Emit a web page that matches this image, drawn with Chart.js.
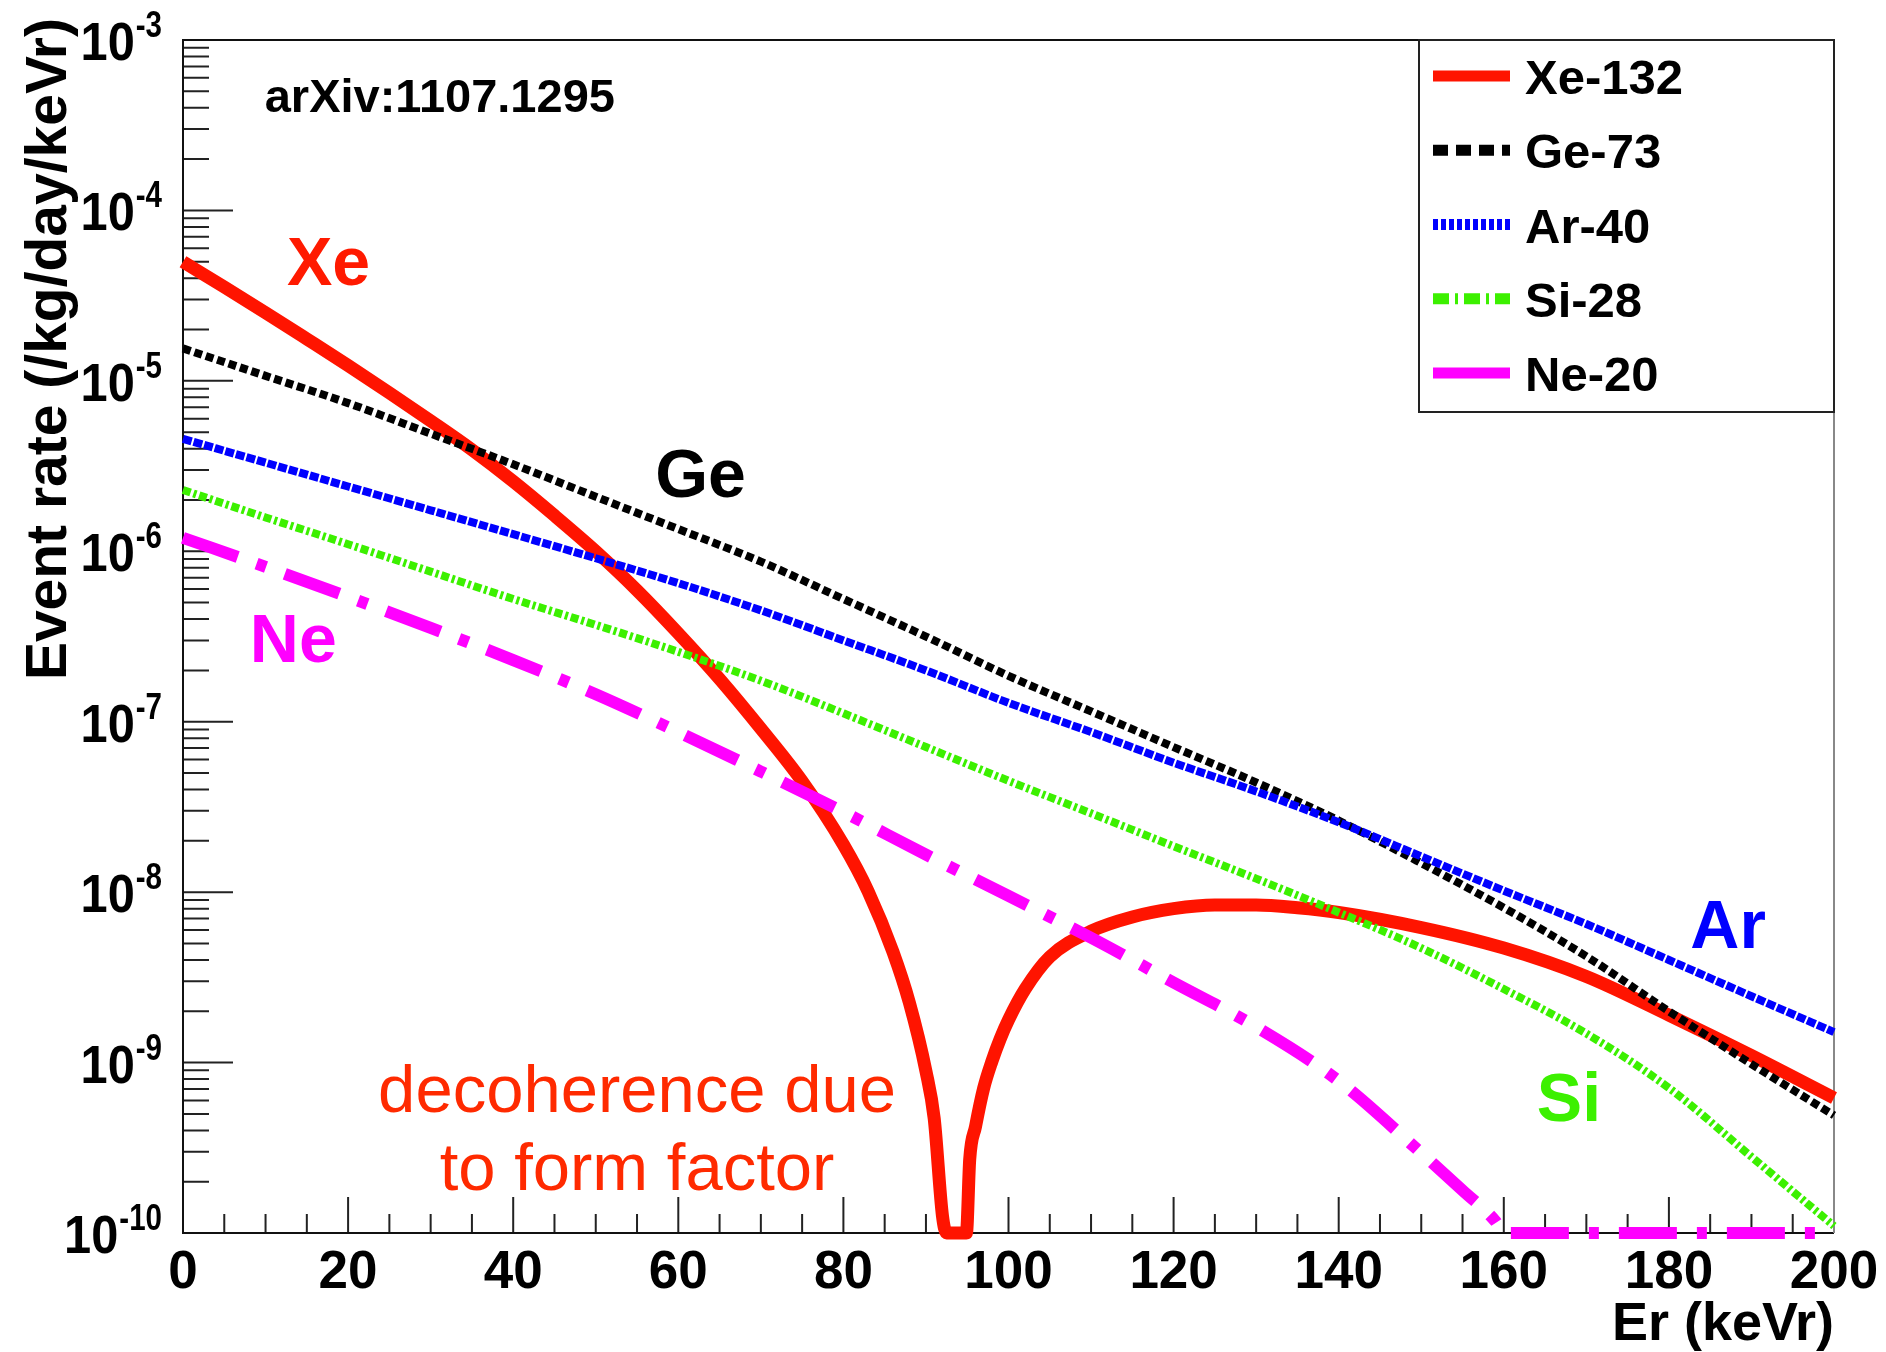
<!DOCTYPE html>
<html>
<head>
<meta charset="utf-8">
<title>Event rate vs recoil energy</title>
<script src="https://cdn.jsdelivr.net/npm/chart.js@4.4.1/dist/chart.umd.min.js"></script>
<style>
  html, body { margin: 0; padding: 0; background: #fff; }
  #wrap { width: 1886px; height: 1352px; position: relative; }
</style>
</head>
<body>
<div id="wrap"><canvas id="rateChart"></canvas></div>
<script>
// Recoil energies (keVr). Xe needs a finer grid around the form-factor zero,
// Ne around the point where it drops under the axis floor.
const energyXe = [0, 5, 10, 15, 20, 25, 30, 35, 40, 45, 50, 55, 60, 65, 70, 75, 80, 83, 86, 88, 90, 91,
  92, 92.5, 94.5, 94.9, 95.3, 96, 97, 98, 99, 100, 102, 105, 110, 115, 120, 125, 130, 135, 140, 150,
  160, 170, 180, 190, 200];
const energyGrid = [0, 10, 20, 30, 40, 50, 60, 70, 80, 90, 100, 110, 120, 130, 140, 150, 160, 170, 180,
  190, 200];
const energyNe = [0, 10, 20, 30, 40, 50, 60, 70, 80, 90, 100, 110, 120, 130, 140, 150, 155, 159, 160,
  170, 180, 190, 200];

// Differential rates (/kg/day/keVr)
const rateXe = [5.0e-5, 3.55e-5, 2.51e-5, 1.76e-5, 1.23e-5, 8.5e-6, 5.82e-6, 3.94e-6, 2.57e-6, 1.62e-6,
  1.0e-6, 5.9e-7, 3.3e-7, 1.78e-7, 9.1e-8, 4.47e-8, 1.9e-8, 1.01e-8, 4.47e-9, 2.24e-9, 8.9e-10, 4.7e-10,
  1.26e-10, 5e-11, 3e-11, 8e-11, 2.7e-10, 4.2e-10, 7.1e-10, 1.02e-9, 1.38e-9, 1.78e-9, 2.69e-9, 4.17e-9,
  5.9e-9, 7.15e-9, 8.0e-9, 8.4e-9, 8.4e-9, 8.1e-9, 7.6e-9, 6.2e-9, 4.7e-9, 3.2e-9, 1.9e-9, 1.1e-9,
  6.2e-10];
const rateGe = [1.55e-5, 1.07e-5, 7.4e-6, 4.9e-6, 3.24e-6, 2.09e-6, 1.35e-6, 8.7e-7, 5.25e-7, 3.16e-7,
  1.86e-7, 1.15e-7, 7.1e-8, 4.4e-8, 2.63e-8, 1.48e-8, 8.1e-9, 4.2e-9, 2.0e-9, 9.8e-10, 4.9e-10];
const rateAr = [4.57e-6, 3.31e-6, 2.40e-6, 1.74e-6, 1.26e-6, 9.1e-7, 6.5e-7, 4.5e-7, 3.0e-7, 2.0e-7,
  1.29e-7, 8.7e-8, 5.75e-8, 3.9e-8, 2.57e-8, 1.62e-8, 1.02e-8, 6.5e-9, 4.0e-9, 2.45e-9, 1.51e-9];
const rateSi = [2.29e-6, 1.58e-6, 1.10e-6, 7.6e-7, 5.25e-7, 3.7e-7, 2.57e-7, 1.74e-7, 1.12e-7, 7.1e-8,
  4.5e-8, 2.9e-8, 1.86e-8, 1.2e-8, 7.6e-9, 4.7e-9, 2.7e-9, 1.48e-9, 7.1e-10, 2.8e-10, 1.1e-10];
const rateNe = [1.2e-6, 8.1e-7, 5.4e-7, 3.55e-7, 2.3e-7, 1.45e-7, 8.7e-8, 5.1e-8, 2.95e-8, 1.66e-8,
  9.5e-9, 5.4e-9, 2.95e-9, 1.62e-9, 7.8e-10, 2.95e-10, 1.78e-10, 1.17e-10, 9.8e-11, 3.2e-11, 1e-11,
  2.5e-12, 6.3e-13];

const seriesNames = ['Xe-132', 'Ge-73', 'Ar-40', 'Si-28', 'Ne-20'];

// Axis ranges and tick labels
const xMin = 0, xMax = 200;
const yMin = 1e-10, yMax = 1e-3;
const xTickLabels = [0, 20, 40, 60, 80, 100, 120, 140, 160, 180, 200];
const xMinorStep = 5;
const yDecades = [-3, -4, -5, -6, -7, -8, -9, -10];
const xTitle = 'Er (keVr)';
const yTitle = 'Event rate (/kg/day/keVr)';

const FONT = '"Liberation Sans", Arial, Helvetica, sans-serif';

// Text placed in data coordinates (keVr, rate)
const notes = [
  { text: 'arXiv:1107.1295', x: 9.9, y: 3.78e-4, color: '#000000', font: 'bold 47px ' + FONT, align: 'left' },
  { text: 'Xe', x: 12.6, y: 3.65e-5, color: '#ff1a00', font: 'bold 68px ' + FONT, align: 'left' },
  { text: 'Ge', x: 57.2, y: 2.08e-6, color: '#000000', font: 'bold 68px ' + FONT, align: 'left' },
  { text: 'Ne', x: 8.1, y: 2.24e-7, color: '#ff00ff', font: 'bold 68px ' + FONT, align: 'left' },
  { text: 'Ar', x: 182.6, y: 4.69e-9, color: '#0000ff', font: 'bold 68px ' + FONT, align: 'left' },
  { text: 'Si', x: 164.0, y: 4.53e-10, color: '#3cf000', font: 'bold 68px ' + FONT, align: 'left' },
  { text: 'decoherence due', x: 55.0, y: 5.12e-10, color: '#ff2a00', font: '67px ' + FONT, align: 'center' },
  { text: 'to form factor', x: 55.0, y: 1.78e-10, color: '#ff2a00', font: '67px ' + FONT, align: 'center' }
];

// Values under the axis floor are drawn along the frame, like ROOT does
function toPoints(xs, ys) {
  return xs.map((x, i) => ({ x: x, y: Math.max(ys[i], yMin) }));
}

const styles = [
  { color: '#ff1400', width: 13, dash: [], legendDash: [], order: 5 },
  { color: '#000000', width: 8, dash: [8, 4], legendDash: [15, 8], order: 4 },
  { color: '#0000ff', width: 8, dash: [9, 2], legendDash: [5, 3], order: 3 },
  { color: '#3cf000', width: 8, dash: [8, 3, 3, 3], legendDash: [16, 6, 3, 6], order: 2 },
  { color: '#ff00ff', width: 12, dash: [58, 20, 10, 20], legendDash: [], order: 1 }
];
const seriesData = [
  toPoints(energyXe, rateXe),
  toPoints(energyGrid, rateGe),
  toPoints(energyGrid, rateAr),
  toPoints(energyGrid, rateSi),
  toPoints(energyNe, rateNe)
];

// Frame, inward ticks, labels, titles and the legend box
const rootStyle = {
  id: 'rootStyle',
  beforeDatasetsDraw(chart) {
    const { ctx, chartArea: a, scales } = chart;
    const x = scales.x, y = scales.y;
    ctx.save();
    ctx.strokeStyle = '#222';
    ctx.lineWidth = 2;
    ctx.beginPath();
    // x ticks along the bottom
    for (let v = xMin; v <= xMax; v += xMinorStep) {
      const px = x.getPixelForValue(v);
      const len = v % 20 === 0 ? 36 : 19;
      ctx.moveTo(px, a.bottom);
      ctx.lineTo(px, a.bottom - len);
    }
    // y ticks along the left side
    for (const d of yDecades) {
      const py = y.getPixelForValue(Math.pow(10, d));
      ctx.moveTo(a.left, py);
      ctx.lineTo(a.left + 50, py);
      if (d > -10) {
        for (let m = 2; m <= 9; m++) {
          const pm = y.getPixelForValue(m * Math.pow(10, d - 1));
          ctx.moveTo(a.left, pm);
          ctx.lineTo(a.left + 26, pm);
        }
      }
    }
    ctx.stroke();
    // frame
    ctx.strokeStyle = '#111';
    ctx.beginPath();
    ctx.moveTo(a.right, a.top);
    ctx.lineTo(a.left, a.top);
    ctx.lineTo(a.left, a.bottom);
    ctx.lineTo(a.right, a.bottom);
    ctx.stroke();
    ctx.strokeStyle = '#888';
    ctx.beginPath();
    ctx.moveTo(a.right, a.top);
    ctx.lineTo(a.right, a.bottom);
    ctx.stroke();
    ctx.restore();
  },
  afterDatasetsDraw(chart) {
    const { ctx, chartArea: a, scales } = chart;
    const x = scales.x, y = scales.y;
    ctx.save();
    ctx.textBaseline = 'alphabetic';

    // x tick labels
    ctx.fillStyle = '#000';
    ctx.font = 'bold 53px ' + FONT;
    ctx.textAlign = 'center';
    for (const v of xTickLabels) {
      ctx.fillText(String(v), x.getPixelForValue(v), a.bottom + 55);
    }

    // y tick labels: 10 with a raised exponent
    ctx.textAlign = 'left';
    const labelRight = a.left - 21;
    for (const d of yDecades) {
      const py = y.getPixelForValue(Math.pow(10, d));
      const exp = '-' + Math.abs(d);
      ctx.font = 'bold 36px ' + FONT;
      const ew = ctx.measureText(exp).width * 0.82;
      ctx.save();
      ctx.translate(labelRight - ew, py - 3);
      ctx.scale(0.82, 1);
      ctx.fillText(exp, 0, 0);
      ctx.restore();
      ctx.font = 'bold 53px ' + FONT;
      const bw = ctx.measureText('10').width * 0.92;
      ctx.save();
      ctx.translate(labelRight - ew - bw - 1, py + 20);
      ctx.scale(0.92, 1);
      ctx.fillText('10', 0, 0);
      ctx.restore();
    }

    // axis titles
    ctx.font = 'bold 54px ' + FONT;
    ctx.textAlign = 'right';
    ctx.fillText(xTitle, a.right, a.bottom + 107);
    ctx.save();
    ctx.translate(66, 18);
    ctx.rotate(-Math.PI / 2);
    ctx.font = 'bold 57px ' + FONT;
    ctx.textAlign = 'right';
    ctx.fillText(yTitle, 0, 0);
    ctx.restore();

    // annotations
    for (const n of notes) {
      ctx.font = n.font;
      ctx.fillStyle = n.color;
      ctx.textAlign = n.align;
      ctx.fillText(n.text, x.getPixelForValue(n.x), y.getPixelForValue(n.y));
    }

    // legend
    const lg = { left: a.right - 415, top: a.top, right: a.right, bottom: a.top + 372 };
    ctx.fillStyle = '#fff';
    ctx.fillRect(lg.left, lg.top, lg.right - lg.left, lg.bottom - lg.top);
    ctx.strokeStyle = '#222';
    ctx.lineWidth = 2;
    ctx.strokeRect(lg.left, lg.top, lg.right - lg.left, lg.bottom - lg.top);
    ctx.font = 'bold 49px ' + FONT;
    ctx.textAlign = 'left';
    chart.data.datasets.forEach((ds, i) => {
      const cy = lg.top + 36 + i * 74.25;
      const st = styles[i];
      ctx.strokeStyle = st.color;
      ctx.lineWidth = 11;
      ctx.lineCap = 'butt';
      ctx.setLineDash(st.legendDash);
      ctx.beginPath();
      ctx.moveTo(lg.left + 14, cy);
      ctx.lineTo(lg.left + 91, cy);
      ctx.stroke();
      ctx.setLineDash([]);
      ctx.fillStyle = '#000';
      ctx.fillText(ds.label, lg.left + 106, cy + 18);
    });
    ctx.restore();
  }
};

const ctx = document.getElementById('rateChart').getContext('2d');
new Chart(ctx, {
  type: 'line',
  data: {
    datasets: seriesNames.map((name, i) => ({
      label: name,
      data: seriesData[i],
      borderColor: styles[i].color,
      borderWidth: styles[i].width,
      borderDash: styles[i].dash,
      order: styles[i].order,
      fill: false,
      clip: false,
      pointRadius: 0,
      cubicInterpolationMode: 'monotone'
    }))
  },
  options: {
    responsive: true,
    maintainAspectRatio: false,
    animation: false,
    layout: { padding: { left: 183, top: 40, right: 52, bottom: 119 } },
    scales: {
      x: { type: 'linear', min: xMin, max: xMax, display: false },
      y: { type: 'logarithmic', min: yMin, max: yMax, display: false }
    },
    elements: {
      line: { borderCapStyle: 'butt', borderJoinStyle: 'round' }
    },
    plugins: {
      legend: { display: false },
      tooltip: { enabled: false }
    }
  },
  plugins: [rootStyle]
});
</script>
</body>
</html>
